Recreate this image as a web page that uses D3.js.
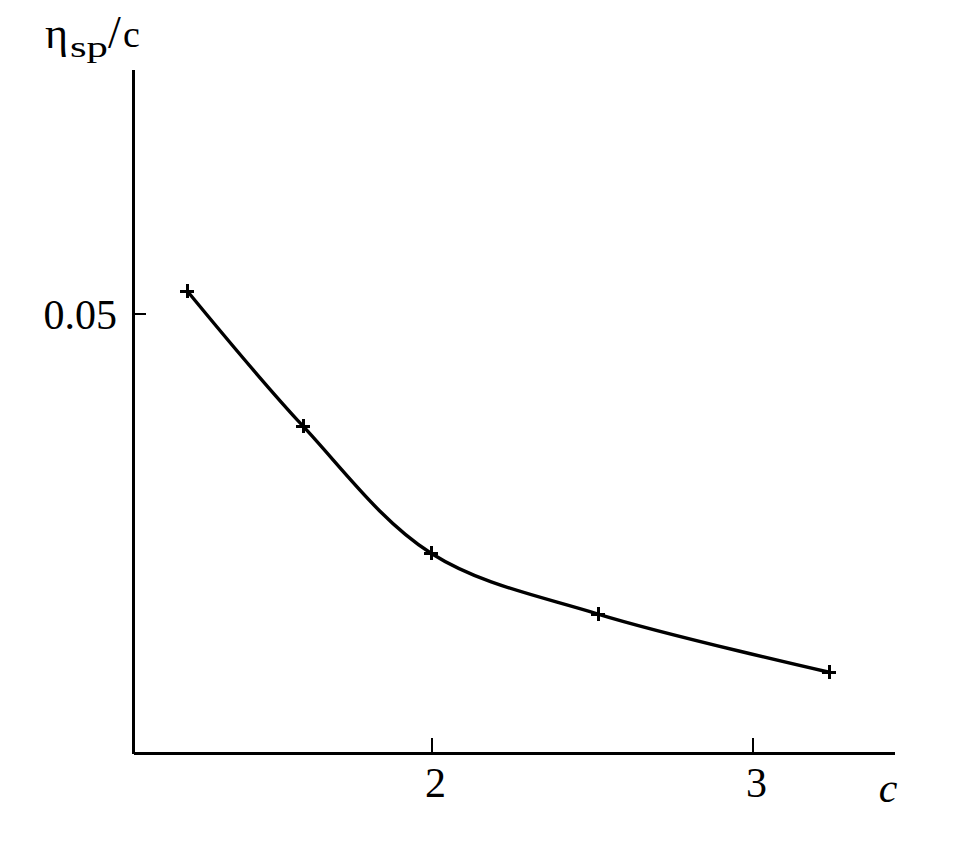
<!DOCTYPE html>
<html><head><meta charset="utf-8">
<script src="https://cdn.jsdelivr.net/npm/d3@7"></script>
<style>body{margin:0;background:#fff;} text{font-family:"Liberation Serif","Times New Roman",serif;fill:#000;}</style>
</head><body>
<svg id="chart" width="956" height="844"></svg>
<script>
const concentrations = [1.24, 1.6, 2.0, 2.52, 3.24];
const reducedViscosity = [0.05106, 0.04491, 0.03910, 0.03633, 0.03368];
const xTickValues = [2, 3];
const yTickValues = [0.05];
const yTickLabels = ["0.05"];

const svg = d3.select("#chart");
const x = d3.scaleLinear().domain([1.0717, 3.442]).range([133, 894]);
const y = d3.scaleLinear().domain([0.03, 0.06116]).range([753, 69]);

// axes
const xAxis = svg.append("g").attr("transform", "translate(0,753)")
  .call(d3.axisBottom(x).tickValues(xTickValues).tickSize(-15).tickSizeOuter(0).tickPadding(14).tickFormat(d3.format("d")));
const yAxis = svg.append("g").attr("transform", "translate(133,0)")
  .call(d3.axisLeft(y).tickValues(yTickValues).tickSize(-13).tickSizeOuter(0).tickPadding(16).tickFormat((d,i)=>yTickLabels[i]));
[xAxis, yAxis].forEach(g => {
  g.attr("font-family", null);
  g.select(".domain").attr("stroke", "#000").attr("stroke-width", 2.2).attr("shape-rendering", "crispEdges");
  g.selectAll(".tick line").attr("stroke", "#000").attr("stroke-width", 2).attr("shape-rendering", "crispEdges");
  g.selectAll(".tick text").attr("font-size", 42).attr("fill", "#000");
});
xAxis.selectAll(".tick text").attr("dy", "0.71em").attr("dx", 4);
yAxis.selectAll(".tick text").attr("dy", "0.35em");

// curve
const data = concentrations.map((c, i) => ({c, v: reducedViscosity[i]}));
const line = d3.line().x(d => x(d.c)).y(d => y(d.v)).curve(d3.curveCatmullRom.alpha(0.5));
svg.append("path").datum(data).attr("d", line).attr("fill", "none").attr("stroke", "#000").attr("stroke-width", 3.4);

// markers
svg.append("g").selectAll("path").data(data).join("path")
  .attr("d", d => { const cx = Math.round(x(d.c)), cy = Math.round(y(d.v)), h = 7; return `M${cx-h},${cy}H${cx+h}M${cx},${cy-h}V${cy+h}`; })
  .attr("stroke", "#000").attr("stroke-width", 3).attr("fill", "none").attr("shape-rendering", "crispEdges");

// axis titles
svg.append("text").attr("x", 45).attr("y", 48).attr("font-size", 44).text("η");
svg.append("text").attr("x", 70).attr("y", 57).attr("font-size", 29)
  .attr("textLength", 38).attr("lengthAdjust", "spacingAndGlyphs").text("sp");
svg.append("text").attr("x", 108).attr("y", 48).attr("font-size", 46).text("/");
svg.append("text").attr("x", 123).attr("y", 47).attr("font-size", 38).text("c");

svg.append("text").attr("x", 888).attr("y", 802).attr("font-size", 42).attr("font-style", "italic").attr("text-anchor", "middle").text("c");
</script>
</body></html>
